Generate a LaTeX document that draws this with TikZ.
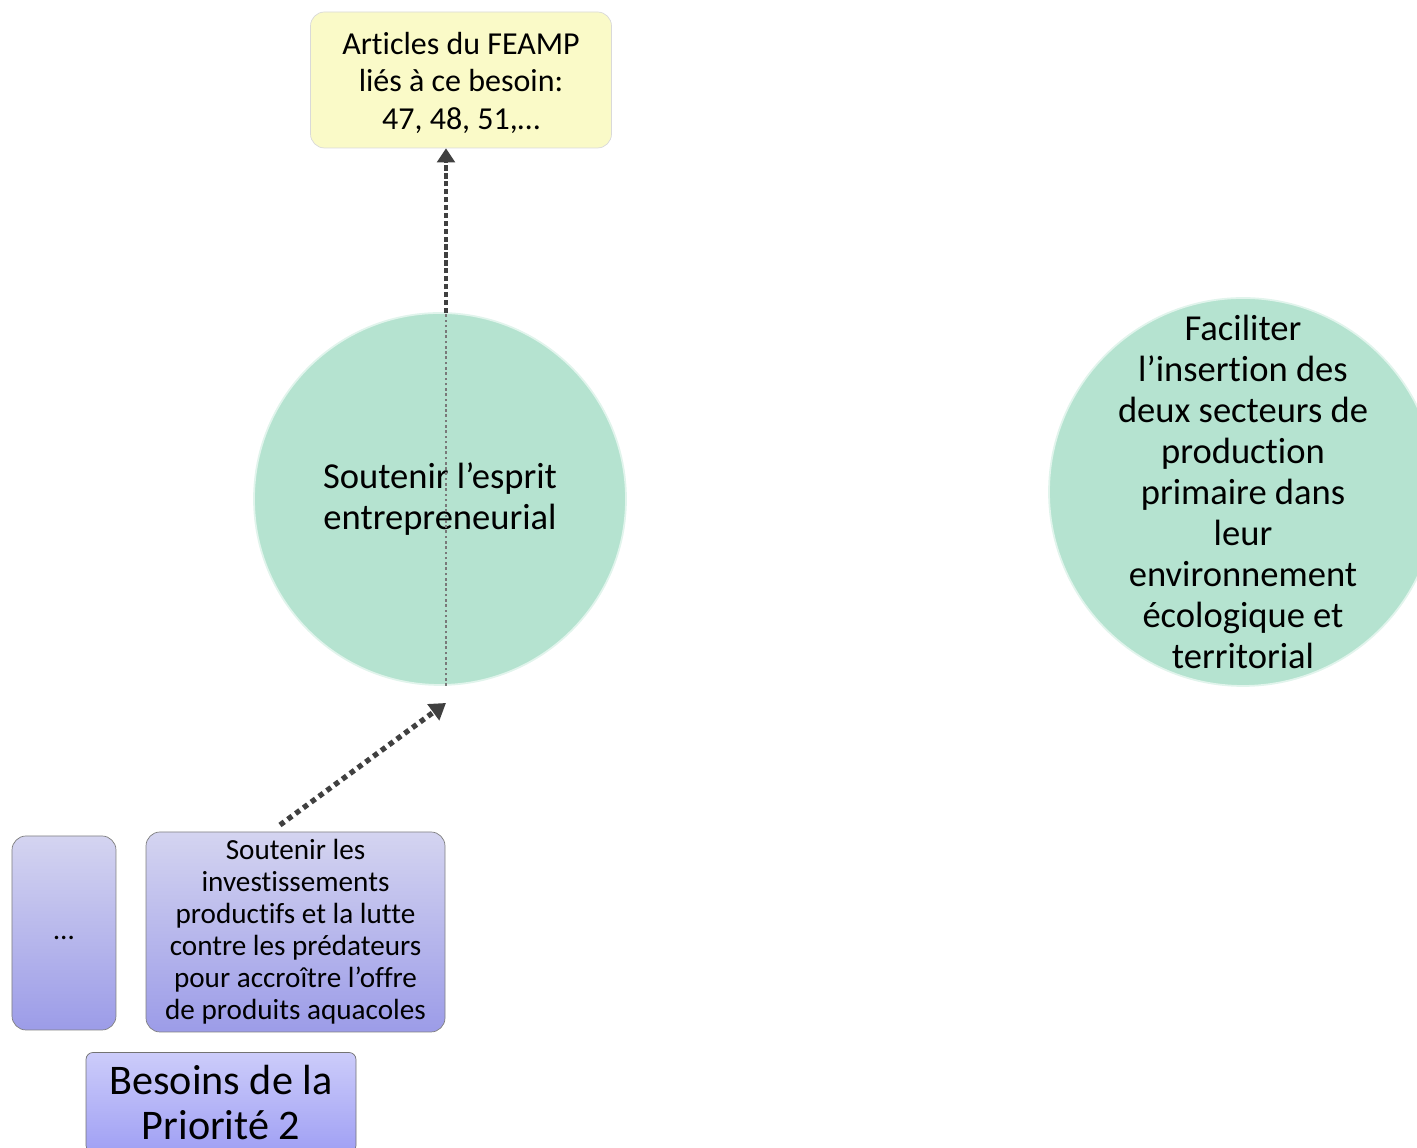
\documentclass[tikz,border=0pt]{standalone}
\usepackage{fontspec}
\setmainfont{Carlito}[Ligatures=NoCommon]
\usetikzlibrary{arrows.meta}
\definecolor{articlefill}{HTML}{FAFAC8}
\definecolor{goalfill}{HTML}{B5E3D0}
\definecolor{needtop}{HTML}{D4D4F0}
\definecolor{needbot}{HTML}{9C9CE8}
\definecolor{prioritop}{HTML}{CCCCFA}
\definecolor{prioribot}{HTML}{A0A0F4}
\definecolor{linkgray}{HTML}{404040}
\tikzset{
    article/.style={draw=black!15, fill=articlefill, rounded corners=8pt, minimum width=6.02cm, minimum height=2.72cm, align=center, font=\fontsize{18.2}{21.6}\selectfont},
    goal/.style={circle, draw=goalfill!40, line width=1pt, fill=goalfill, inner sep=0pt, align=center, font=\fontsize{20.8}{23.3}\selectfont},
    needbox/.style={draw=black!50, top color=needtop, bottom color=needbot, rounded corners=8pt, align=center, font=\fontsize{16.6}{18.2}\selectfont},
    priobox/.style={draw=black!55, top color=prioritop, bottom color=prioribot, rounded corners=4pt, align=center, font=\fontsize{24}{25.2}\selectfont},
    linkup/.style={linkgray, line width=2.8pt, dash pattern=on 3pt off 1.5pt, -{Triangle[length=8pt, width=10pt]}},
    linkdiag/.style={linkgray, line width=3pt, dash pattern=on 3pt off 2.5pt, -{Triangle[length=9pt, width=11pt]}}
}
\begin{document}
\begin{tikzpicture}
        \useasboundingbox (0, 0) rectangle (28.34, 22.96);
        % articles
        \node[article] (feamp) at (9.22, 21.36) {\rule{0pt}{16pt}Articles du FEAMP\\liés à ce besoin:\\47, 48, 51,\dots};
        % objectifs
        \node[goal, minimum size=7.44cm] (esprit) at (8.80, 12.98) {Soutenir l’esprit\\entrepreneurial};
        \node[goal, minimum size=7.76cm, inner sep=-0.4cm] (insertion) at (24.86, 13.12) {Faciliter\\l’insertion des\\deux secteurs de\\production\\primaire dans\\leur\\environnement\\écologique et\\territorial};
        % besoins
        \node[needbox, minimum width=2.08cm, minimum height=3.88cm] (autres) at (1.28, 4.30) {\raisebox{-8pt}{\dots}};
        \node[needbox, minimum width=5.98cm, minimum height=4.0cm, inner sep=1pt] (invest) at (5.91, 4.32) {Soutenir les\\investissements\\productifs et la lutte\\contre les prédateurs\\pour accroître l’offre\\de produits aquacoles};
        \node[priobox, minimum width=5.4cm, minimum height=2.0cm] (prio) at (4.42, 0.91) {Besoins de la\\Priorité 2};
        % liens
        \coordinate (esprit-in) at (8.92, 8.90);
        \coordinate (esprit-bas) at (8.92, 9.24);
        \coordinate (esprit-haut) at (8.92, 16.70);
        \draw[linkdiag] (5.60, 6.46) coordinate (invest-out) -- (esprit-in);
        \draw[linkgray!70, line width=1.2pt, dash pattern=on 1.5pt off 1.5pt] (esprit-bas) -- (esprit-haut);
        \draw[linkup] (esprit-haut) -- (feamp.south -| esprit-haut);
    \end{tikzpicture}
\end{document}
